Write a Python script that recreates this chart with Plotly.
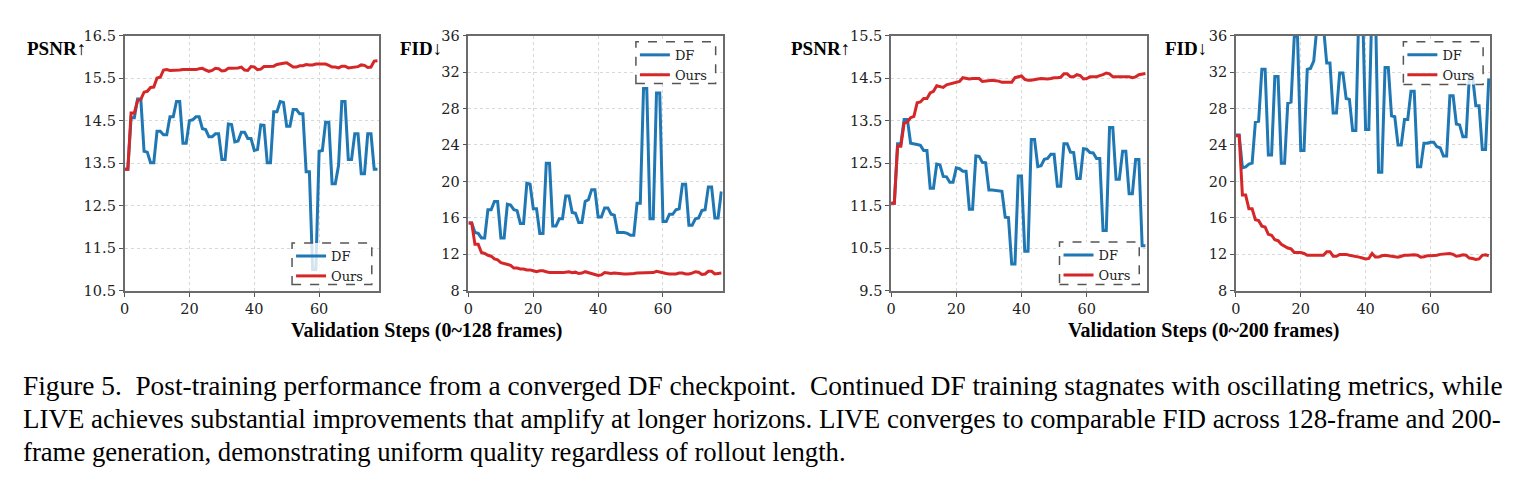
import plotly.graph_objects as go

W, H = 1516, 485

steps = list(range(79))

psnr128_df = [13.36,13.36,14.57,14.57,15.01,15.01,13.78,13.76,13.51,13.51,
              14.25,14.25,14.17,14.17,14.59,14.59,14.95,14.95,13.97,13.97,
              14.50,14.52,14.59,14.59,14.31,14.29,14.12,14.12,14.19,14.19,
              13.59,13.59,14.42,14.41,14.00,14.02,14.23,14.23,14.08,14.08,
              13.80,13.82,14.40,14.39,13.51,13.51,14.71,14.71,14.95,14.93,
              14.37,14.37,14.76,14.76,14.66,14.66,13.30,13.30,11.00,11.00,
              13.78,13.80,14.46,14.46,13.02,13.02,13.45,14.95,14.95,13.59,
              13.59,14.19,14.19,13.25,13.25,14.19,14.19,13.36,13.36]
psnr128_ours = [13.36,13.36,14.68,14.68,14.97,15.00,15.17,15.19,15.28,15.29,
                15.50,15.52,15.69,15.70,15.68,15.68,15.69,15.69,15.70,15.70,
                15.71,15.71,15.70,15.72,15.73,15.69,15.66,15.68,15.73,15.72,
                15.67,15.68,15.73,15.73,15.73,15.74,15.76,15.69,15.68,15.77,
                15.76,15.70,15.71,15.77,15.77,15.77,15.78,15.82,15.84,15.85,
                15.86,15.80,15.76,15.76,15.79,15.79,15.82,15.81,15.81,15.83,
                15.83,15.83,15.83,15.80,15.76,15.76,15.74,15.78,15.78,15.74,
                15.75,15.76,15.77,15.81,15.80,15.75,15.76,15.90,15.91]

fid128_df = [15.45,15.45,14.4,14.3,13.8,13.8,16.9,16.9,17.8,17.8,
             13.8,13.8,17.5,17.4,16.9,16.8,15.4,15.4,19.8,19.7,
             17.0,17.0,14.3,14.3,22.0,22.0,15.1,15.1,15.9,15.9,
             18.4,18.4,16.6,16.5,15.5,15.5,17.8,18.0,19.1,19.1,
             16.1,16.1,17.1,17.1,16.4,16.3,14.4,14.4,14.4,14.3,
             14.1,14.1,17.6,17.6,30.2,30.2,15.9,15.9,29.7,29.7,
             15.6,15.6,16.4,16.4,16.9,17.0,19.7,19.7,15.2,15.2,
             15.9,16.0,16.8,16.9,19.4,19.4,16.0,16.0,18.9]
fid128_ours = [15.45,15.45,13.1,13.1,12.2,12.1,11.9,11.8,11.5,11.4,
               11.1,11.0,10.9,10.8,10.5,10.5,10.4,10.4,10.3,10.3,
               10.2,10.1,10.2,10.2,10.1,10.0,10.0,10.0,9.95,10.0,
               10.05,10.1,10.0,10.05,9.9,9.95,10.1,10.0,9.9,9.85,
               9.7,9.75,10.0,9.95,9.9,9.95,9.9,9.85,9.85,9.85,
               9.85,9.9,9.95,9.95,9.95,9.95,9.95,10.0,10.15,10.05,
               9.95,9.9,9.85,9.85,9.85,9.95,9.95,9.85,9.85,9.95,
               10.1,10.05,9.8,9.85,10.15,10.15,9.85,9.9,9.95]

psnr200_df = [11.56,11.56,12.96,12.96,13.53,13.53,12.97,12.96,12.94,12.92,
              12.80,12.80,11.91,11.91,12.48,12.46,12.19,12.18,12.05,12.05,
              12.39,12.37,12.31,12.31,11.42,11.42,12.67,12.66,12.52,12.51,
              11.87,11.87,11.86,11.86,11.84,11.23,11.22,10.13,10.13,12.20,
              12.20,10.43,10.43,13.06,13.06,12.42,12.44,12.59,12.61,12.71,
              12.71,11.96,11.96,12.96,12.96,12.76,12.75,12.14,12.14,12.84,
              12.83,12.75,12.74,12.61,12.61,10.92,10.92,13.34,13.34,12.12,
              12.12,12.78,12.78,11.78,11.78,12.59,12.59,10.56,10.56]
psnr200_ours = [11.56,11.56,12.90,12.90,13.44,13.47,13.57,13.60,13.92,13.94,
                14.02,14.02,14.15,14.19,14.32,14.30,14.28,14.34,14.36,14.38,
                14.40,14.42,14.51,14.49,14.48,14.49,14.49,14.49,14.42,14.43,
                14.45,14.45,14.44,14.43,14.40,14.40,14.40,14.40,14.51,14.53,
                14.55,14.47,14.45,14.45,14.47,14.48,14.49,14.48,14.48,14.49,
                14.51,14.51,14.52,14.60,14.60,14.53,14.53,14.58,14.56,14.48,
                14.49,14.53,14.53,14.53,14.56,14.58,14.62,14.60,14.53,14.53,
                14.53,14.53,14.53,14.53,14.51,14.53,14.58,14.60,14.61]

fid200_df = [25.1,25.1,21.5,21.6,21.9,22.0,26.5,26.6,32.3,32.3,
             22.9,22.9,31.5,31.5,22.0,22.0,28.6,28.7,35.9,35.9,
             23.4,23.4,32.3,32.4,33.2,37.0,38.0,37.0,33.0,33.0,
             27.5,27.5,31.9,31.9,29.1,29.0,25.6,25.6,40.0,40.0,
             25.7,25.7,40.0,40.0,21.0,21.0,32.5,32.5,27.2,27.1,
             24.0,24.0,26.8,26.8,29.9,29.9,21.6,21.6,24.2,24.2,
             24.3,24.3,23.8,23.7,22.8,22.8,29.4,29.4,26.3,26.2,
             24.9,24.9,31.5,31.5,28.3,28.3,23.5,23.5,31.3]
fid200_ours = [25.0,25.0,18.5,18.5,17.0,17.0,15.8,15.7,15.1,15.0,
               14.2,14.1,13.6,13.5,13.1,12.9,12.7,12.6,12.2,12.2,
               12.2,12.1,11.9,11.9,11.9,11.9,11.9,11.9,12.3,12.3,
               11.8,11.8,12.0,12.0,12.0,11.9,11.85,11.75,11.7,11.6,
               11.5,11.55,12.1,11.7,11.7,11.85,11.9,11.85,11.8,11.7,
               11.7,11.8,11.9,11.9,11.95,11.95,11.9,11.7,11.75,11.85,
               11.85,11.85,11.9,12.0,12.05,12.1,12.1,12.0,11.8,11.85,
               11.95,11.9,11.6,11.55,11.45,11.5,11.9,11.95,11.85]

panel_titles = ["PSNR↑", "FID↓", "PSNR↑", "FID↓"]
psnr128_ticks = [10.5, 11.5, 12.5, 13.5, 14.5, 15.5, 16.5]
fid_ticks = [8, 12, 16, 20, 24, 28, 32, 36]
psnr200_ticks = [9.5, 10.5, 11.5, 12.5, 13.5, 14.5, 15.5]
x_ticks = [0, 20, 40, 60]
series_names = ["DF", "Ours"]
xlabels = ["Validation Steps (0~128 frames)", "Validation Steps (0~200 frames)"]
caption_lines = [
    "Figure 5.  Post-training performance from a converged DF checkpoint.  Continued DF training stagnates with oscillating metrics, while",
    "LIVE achieves substantial improvements that amplify at longer horizons. LIVE converges to comparable FID across 128-frame and 200-",
    "frame generation, demonstrating uniform quality regardless of rollout length.",
]

BLUE = "#1f77b4"
RED = "#d62728"

def px(xp):
    return xp / W

def py(yp):
    return 1 - yp / H

panels = [
    dict(x0=120, x1=375, df=psnr128_df, ours=psnr128_ours, ticks=psnr128_ticks,
         leg=(288, 243, 368, 286), lab_right=83),
    dict(x0=465, x1=720, df=fid128_df, ours=fid128_ours, ticks=fid_ticks,
         leg=(633, 35, 713, 78), lab_right=440),
    dict(x0=889, x1=1145.5, df=psnr200_df, ours=psnr200_ours, ticks=psnr200_ticks,
         leg=(1058, 242, 1138, 286), lab_right=850),
    dict(x0=1235, x1=1490, df=fid200_df, ours=fid200_ours, ticks=fid_ticks,
         leg=(1403, 35, 1483, 79), lab_right=1208),
]
TOP, BOT = 28.5, 292.5

fig = go.Figure()
layout = dict(
    width=W, height=H,
    margin=dict(l=0, r=0, t=0, b=0),
    paper_bgcolor="white", plot_bgcolor="white",
    font=dict(family="DejaVu Serif", size=14, color="#222"),
    shapes=[], annotations=[],
)
tick_font = dict(family="DejaVu Serif", size=14.5, color="#222")

for i, p in enumerate(panels):
    n = "" if i == 0 else str(i + 1)
    leg = "legend" + n
    for name, ys, col in ((series_names[0], p["df"], BLUE), (series_names[1], p["ours"], RED)):
        fig.add_trace(go.Scatter(
            x=steps, y=ys, mode="lines", name=name,
            line=dict(color=col, width=3),
            xaxis="x" + n, yaxis="y" + n, legend=leg,
        ))
    yr = [p["ticks"][0], p["ticks"][-1]]
    layout["xaxis" + n] = dict(
        domain=[px(p["x0"]), px(p["x1"])], anchor="y" + n, range=[0, 78.4],
        tickvals=x_ticks, ticks="outside", ticklen=4, tickcolor="#555", tickwidth=1,
        showline=True, mirror=True, linecolor="#6b6b6b", linewidth=1.6,
        showgrid=True, gridcolor="#d8d8d8", griddash="dot", gridwidth=1,
        zeroline=False, tickfont=tick_font, fixedrange=True,
    )
    layout["yaxis" + n] = dict(
        domain=[py(BOT), py(TOP)], anchor="x" + n, range=yr,
        tickvals=p["ticks"], ticktext=[(f"{t:g}" if isinstance(t, float) and t % 1 else str(int(t))) for t in p["ticks"]],
        ticks="outside", ticklen=4, tickcolor="#555", tickwidth=1,
        showline=True, mirror=True, linecolor="#6b6b6b", linewidth=1.6,
        showgrid=True, gridcolor="#d8d8d8", griddash="dot", gridwidth=1,
        zeroline=False, tickfont=tick_font, fixedrange=True,
    )
    lx0, ly0, lx1, ly1 = p["leg"]
    layout["shapes"].append(dict(
        type="rect", xref="paper", yref="paper",
        x0=px(lx0), x1=px(lx1), y0=py(ly1), y1=py(ly0),
        line=dict(color="#555", width=1.5, dash="dash"),
        fillcolor="rgba(255,255,255,0.8)", layer="above",
    ))
    layout[leg] = dict(
        x=px(lx0 - 1), y=py(ly0 - 2), xanchor="left", yanchor="top",
        bgcolor="rgba(0,0,0,0)", borderwidth=0,
        font=dict(family="DejaVu Serif", size=13, color="#222"),
        itemwidth=30, tracegroupgap=0,
    )
    layout["annotations"].append(dict(
        text="<b>" + panel_titles[i][:-1] + "</b>" + panel_titles[i][-1],
        xref="paper", yref="paper", x=px(p["lab_right"]), y=py(42),
        xanchor="right", yanchor="middle", showarrow=False,
        font=dict(family="Liberation Serif", size=19, color="black"),
    ))

for j, lab in enumerate(xlabels):
    cx = [423, 1202][j]
    layout["annotations"].append(dict(
        text="<b>" + lab + "</b>", xref="paper", yref="paper",
        x=px(cx), y=py(333), xanchor="center", yanchor="middle", showarrow=False,
        font=dict(family="Liberation Serif", size=20, color="black"),
    ))

caption_sizes = [27.35, 26.95, 26.7]
for k, line in enumerate(caption_lines):
    layout["annotations"].append(dict(
        text=line, xref="paper", yref="paper",
        x=px(16), y=py(391 + 34 * k), xanchor="left", yanchor="middle", showarrow=False,
        font=dict(family="Liberation Serif", size=caption_sizes[k], color="black"),
    ))

fig.update_layout(**layout)
fig.write_html("out.html")
